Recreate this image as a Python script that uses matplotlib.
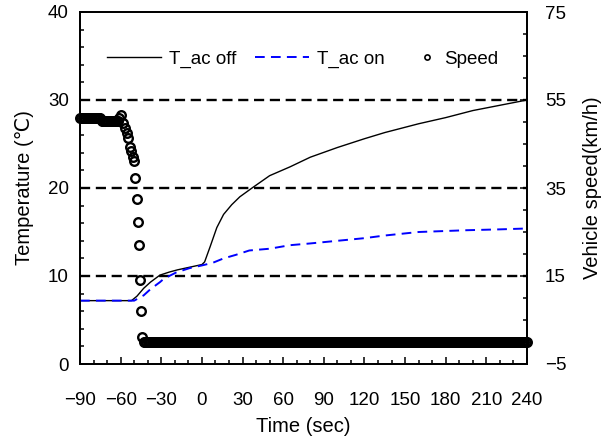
import numpy as np
import matplotlib
matplotlib.use("Agg")
import matplotlib.pyplot as plt
from matplotlib.ticker import MultipleLocator, FixedLocator

plt.rcParams['font.family'] = ['Liberation Sans', 'DejaVu Sans']

# ---- data ----
t_off = [-90, -52, -48, -43, -38, -31, -24, -18, -9, 0, 2, 6, 11, 16, 22, 28, 37,
         50, 65, 80, 100, 120, 135, 160, 180, 200, 220, 240]
T_off = [7.2, 7.2, 7.7, 8.6, 9.3, 10.1, 10.45, 10.7, 11.0, 11.3, 11.6, 13.3, 15.5,
         17.0, 18.1, 19.0, 20.0, 21.4, 22.4, 23.5, 24.6, 25.6, 26.3, 27.3, 28.0,
         28.8, 29.4, 30.0]

t_on = [-90, -50, -43, -38, -31, -28, -19, -9, 0, 8, 16, 25, 35, 50, 65, 80, 100,
        120, 135, 160, 195, 220, 240]
T_on = [7.2, 7.2, 7.8, 8.5, 9.3, 9.7, 10.4, 10.9, 11.2, 11.5, 12.0, 12.4, 12.9,
        13.1, 13.5, 13.7, 14.0, 14.3, 14.6, 15.0, 15.2, 15.3, 15.4]

speed_t_move = [-90, -89, -88, -87, -86, -85, -84, -83, -82, -81, -80, -79, -78,
                -77, -76, -75, -74, -73, -72, -71, -70, -69, -68, -67, -66, -65,
                -64, -63, -62, -61, -60, -58, -57, -55.5, -54.3, -53, -52, -50.6,
                -50, -49.2, -48, -47, -46.2, -45.4, -45, -44]
speed_move = [51.0, 51.0, 51.0, 51.0, 51.0, 51.0, 51.0, 51.0, 51.0, 51.0, 51.0,
              51.0, 51.0, 51.0, 51.0, 51.0, 50.2, 50.2, 50.2, 50.2, 50.2, 50.2,
              50.2, 50.2, 50.2, 50.2, 50.2, 50.2, 50.2, 50.8, 51.6, 49.7, 48.6,
              47.5, 46.4, 44.4, 43.3, 42.1, 41.2, 37.2, 32.4, 27.2, 22.0, 14.1,
              7.0, 1.2]
speed_t_stop = np.arange(-43, 241, 1)
speed_stop = np.zeros(len(speed_t_stop))

ref_levels = [10, 20, 30]
x_ticks = [-90, -60, -30, 0, 30, 60, 90, 120, 150, 180, 210, 240]
left_ticks = [0, 10, 20, 30, 40]
right_ticks = [-5, 15, 35, 55, 75]

# ---- figure ----
fig = plt.figure(figsize=(6.07, 4.40), dpi=100)
ax = fig.add_axes([80/607, 1-364/440, 447/607, 352/440])
ax2 = ax.twinx()

for lev in ref_levels:
    ax.axhline(lev, color='black', lw=1.7, linestyle=(0, (4.3, 2.4)), zorder=1)

l_off, = ax.plot(t_off, T_off, color='black', lw=1.0, label='T_ac off', zorder=3)
l_on, = ax.plot(t_on, T_on, color='#0000ff', lw=1.4, linestyle=(0, (5.0, 3.2)),
                label='T_ac on', zorder=3)

s1, = ax2.plot(list(speed_t_move) + list(speed_t_stop),
               list(speed_move) + list(speed_stop),
               linestyle='none', marker='o', markersize=6.2, markerfacecolor='none',
               markeredgecolor='black', markeredgewidth=1.7, clip_on=False,
               label='Speed', zorder=4)

ax.set_xlim(-90, 240)
ax.set_ylim(0, 40)
ax2.set_ylim(-5, 75)

ax.xaxis.set_major_locator(FixedLocator(x_ticks))
ax.xaxis.set_minor_locator(MultipleLocator(10))
ax.yaxis.set_major_locator(FixedLocator(left_ticks))
ax.yaxis.set_minor_locator(MultipleLocator(2))
ax2.yaxis.set_major_locator(FixedLocator(right_ticks))
ax2.yaxis.set_minor_locator(MultipleLocator(5))

for a in (ax, ax2):
    for sp in a.spines.values():
        sp.set_linewidth(1.3)
ax.tick_params(axis='both', which='both', direction='in', top=False, right=False,
               labelsize=13.5, width=1.1)
ax.tick_params(axis='both', which='major', length=5)
ax.tick_params(axis='both', which='minor', length=3.2)
ax.tick_params(axis='x', which='major', pad=20)
ax.tick_params(axis='y', which='major', pad=8)
ax2.tick_params(axis='y', which='both', direction='in', labelsize=13.5, width=1.1)
ax2.tick_params(axis='y', which='major', length=5, pad=13)
ax2.tick_params(axis='y', which='minor', length=3.2)

ax.set_xlabel('Time (sec)', fontsize=14.5, labelpad=6)
ax.set_ylabel('Temperature (℃)', fontsize=14.5, labelpad=10)
ax2.set_ylabel('Vehicle speed(km/h)', fontsize=14.5, labelpad=12)

leg1 = ax2.legend(handles=[l_off, l_on], loc='center left',
                  bbox_to_anchor=(0.043, 0.866), ncol=2, frameon=False,
                  fontsize=13.5, handlelength=2.9, handletextpad=0.4,
                  columnspacing=1.0, borderaxespad=0)
ax2.add_artist(leg1)
leg2 = ax2.legend(handles=[s1], loc='center left',
                  bbox_to_anchor=(0.739, 0.866), frameon=False,
                  fontsize=13.5, handlelength=1.0, handletextpad=0.4,
                  markerscale=0.6, borderaxespad=0)
leg2.legend_handles[0].set_markeredgewidth(1.2)

fig.savefig('out.png', dpi=100)
